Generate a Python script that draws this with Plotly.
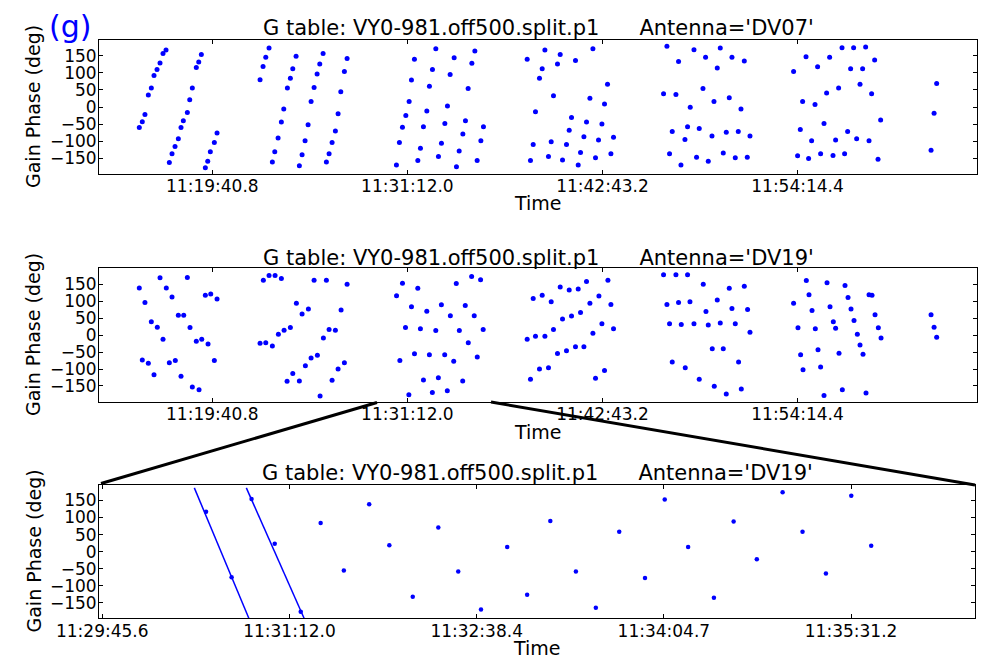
import plotly.graph_objects as go

W, H = 1000, 665

# ---------------- data (time = seconds after 11:00:00, phase in degrees) ----------------
main_tick_vals = [1180.8, 1872.0, 2563.2, 3254.4]
main_tick_labels = ["11:19:40.8", "11:31:12.0", "11:42:43.2", "11:54:14.4"]
zoom_tick_vals = [1785.6, 1872.0, 1958.4, 2044.8, 2131.2]
zoom_tick_labels = ["11:29:45.6", "11:31:12.0", "11:32:38.4", "11:34:04.7", "11:35:31.2"]
phase_ticks = [-150, -100, -50, 0, 50, 100, 150]

dv07_time_s = [
    922.0, 932.6, 942.0, 954.0, 964.6, 974.1, 984.8, 995.4, 1006.0, 1016.7,
    1028.4, 1037.9, 1048.6, 1060.3, 1069.8, 1078.0, 1092.2, 1100.7, 1109.9, 1124.0, 1132.6, 1141.8,
    1156.0, 1164.5, 1173.7, 1187.9, 1197.5,
    1349.9, 1360.5, 1370.1, 1381.8,
    1393.5, 1402.0, 1413.7, 1425.4, 1433.9, 1446.7, 1457.3, 1465.8, 1477.5,
    1489.2, 1498.8, 1509.4, 1520.1, 1530.7, 1541.3, 1552.0, 1561.5, 1573.2,
    1584.9, 1594.5, 1605.1, 1616.8, 1626.4, 1636.0, 1648.7, 1658.3,
    1833.1, 1843.7, 1854.4, 1866.4, 1878.1, 1886.3, 1896.9, 1908.9, 1918.2, 1928.8,
    1940.8, 1950.0, 1960.7, 1972.7, 1982.0, 1992.6, 2004.7, 2013.9, 2023.4, 2037.6,
    2045.8, 2055.4, 2068.5, 2077.7, 2087.2, 2100.4, 2111.0, 2119.2, 2132.3, 2141.5,
    2296.4, 2308.1, 2317.7, 2325.8, 2340.0, 2349.6, 2359.2, 2371.9, 2381.5, 2389.6,
    2403.8, 2413.4, 2421.6, 2435.7, 2445.3, 2453.5, 2467.6, 2477.2, 2485.4, 2497.4,
    2506.6, 2518.7, 2529.3, 2538.5, 2549.2, 2561.2, 2570.4, 2581.1, 2593.1, 2602.3,
    2779.6, 2791.6, 2800.9, 2810.4, 2823.5, 2832.8, 2841.3, 2855.4, 2864.7, 2874.2,
    2887.4, 2896.6, 2906.1, 2919.3, 2928.5, 2938.1, 2951.2, 2958.3, 2970.0, 2980.6,
    2991.2, 3001.9, 3012.5, 3022.0, 3033.8, 3044.4, 3054.0, 3065.7, 3076.3, 3085.9,
    3240.4, 3254.6, 3264.2, 3272.4, 3284.4, 3293.6, 3304.3, 3316.3, 3325.5, 3336.2,
    3348.2, 3357.4, 3368.1, 3380.1, 3389.3, 3399.9, 3412.0, 3421.2, 3431.9, 3442.5,
    3453.1, 3463.8, 3475.8, 3485.0, 3495.7, 3507.7, 3516.9, 3527.6, 3539.6, 3548.9,
    3727.5, 3738.2, 3747.4,
]
dv07_phase_deg = [
    -60, -43, -22, 35, 56, 92, 110, 129, 157, 167,
    -163, -137, -116, -93, -60, -40, -16, 21, 56, 116, 132, 154,
    -178, -159, -131, -104, -76,
    80, 119, 146, 173,
    -161, -131, -91, -44, -6, 56, 84, 112, 149,
    -172, -140, -99, -52, 16, 57, 97, 126, 157,
    -161, -137, -104, -70, -20, 45, 104, 142,
    -170, -104, -59, -25, 16, 79, 140, -157, -121, -58,
    -12, 61, 110, 171, -145, -106, -48, 3, 95, 144,
    -175, -129, -79, -40, 54, 128, 164, -157, -99, -58,
    140, -157, -110, -14, 84, 112, 167, -145, -102, 33,
    126, 154, -155, -110, -68, -31, 136, -170, -133, -87,
    -44, 26, 171, -149, -97, -50, 9, 67, -137, -89,
    39, 178, -137, -72, 37, 133, -170, -95, -58, -1,
    168, -147, -63, 54, 146, -159, -85, 16, 114, 173,
    -135, -74, 27, 146, -149, -72, -6, 135, -147, -85,
    104, -143, -66, 16, 147, -151, -99, 7, 118, -137,
    -48, 41, 146, -142, -97, 56, 174, -137, -72, 112,
    174, -93, 67, 112, 176, -99, 39, 138, -153, -38,
    -127, -18, 69,
]

dv19_time_s = [
    922.0, 932.6, 942.0, 954.0, 964.6, 974.1, 985.8, 995.4, 1006.0, 1017.7,
    1028.4, 1037.9, 1049.6, 1060.3, 1069.8, 1079.4, 1092.2, 1101.7, 1109.9, 1124.0,
    1133.7, 1143.2, 1156.0, 1165.6, 1175.1, 1187.9, 1197.5,
    1349.9, 1361.6, 1370.1, 1381.8, 1393.5, 1403.1, 1414.8, 1425.4, 1435.0, 1445.6,
    1457.3, 1465.8, 1478.6, 1489.2, 1498.8, 1510.5, 1521.1, 1530.7, 1541.3, 1553.0,
    1562.6, 1574.3, 1584.9, 1594.5, 1605.1, 1616.8, 1626.4, 1637.0, 1648.7, 1658.3,
    1833.5, 1845.3, 1854.5, 1865.2, 1877.2, 1886.4, 1897.1, 1908.8, 1918.1, 1928.9,
    1940.7, 1949.9, 1960.4, 1972.5, 1981.7, 1992.4, 2004.2, 2013.4, 2024.2, 2036.1,
    2045.2, 2056.0, 2067.9, 2077.0, 2087.7, 2099.6, 2108.8, 2119.6, 2131.3, 2140.5,
    2296.4, 2308.1, 2317.7, 2325.8, 2340.0, 2349.6, 2359.2, 2371.9, 2381.5, 2389.6,
    2403.8, 2413.4, 2421.6, 2435.7, 2445.3, 2453.5, 2467.6, 2477.2, 2485.4, 2497.4,
    2506.6, 2518.7, 2529.3, 2538.5, 2550.6, 2561.2, 2570.4, 2582.5, 2593.1, 2602.3,
    2779.6, 2791.6, 2800.9, 2810.4, 2823.5, 2832.8, 2842.4, 2856.5, 2864.7, 2873.2,
    2887.4, 2906.1, 2920.3, 2929.9, 2938.1, 2952.2, 2959.3, 2970.0, 2980.6, 2991.2,
    3001.9, 3012.5, 3022.0, 3033.8, 3045.5, 3055.1, 3065.7, 3077.4, 3085.9,
    3240.4, 3256.0, 3265.3, 3273.8, 3285.5, 3295.0, 3305.7, 3317.4, 3326.9, 3336.2,
    3348.2, 3358.9, 3369.5, 3381.2, 3389.3, 3401.4, 3413.1, 3422.6, 3433.3, 3443.9,
    3454.5, 3466.3, 3475.8, 3486.4, 3497.1, 3507.7, 3518.3, 3529.0, 3540.7, 3550.3,
    3727.5, 3738.2, 3747.4,
]
dv19_phase_deg = [
    140, -73, 97, -83, 40, -117, 24, 170, -12, 140,
    -81, 113, -75, 59, -121, 59, 171, 23, -153, -18,
    -161, -12, 118, -26, 122, -75, 107,
    -24, 163, -22, 177, -32, 177, 3, 168, 15, -136,
    23, -113, 95, -135, 63, -90, 78, -67, 163, -59,
    -180, -8, 163, 17, -133, 15, -100, 75, -81, 151,
    117, -75, 154, 23, -176, 84, -55, 139, 19, -132,
    71, -58, -169, 14, -126, 90, -58, -164, 58, -77,
    153, 14, -135, 88, -22, 174, 58, -64, 164, 17,
    -12, -130, 109, -3, -100, 118, -3, -96, 99, 17,
    -54, 143, 48, -46, 134, 57, -34, 137, 67, -34,
    159, 95, 6, -127, 116, 34, -104, 163, 91, 19,
    179, 91, 34, -79, 179, 97, 32, -96, 179, 99,
    34, -130, 151, 70, 30, -40, -151, 104, 36, -40,
    -174, 139, 79, 34, -79, -159, 145, 76, 9,
    95, 22, -58, -102, 162, 120, 73, 19, -43, -94,
    -178, 155, 84, 40, 21, -53, -161, 147, 112, 78,
    44, 3, -29, -56, -171, 120, 118, 61, 22, -8,
    61, 24, -6,
]

# phase-wrap guide lines in the zoomed panel
wrap1_time_s = [1828.1, 1853.3]
wrap1_phase_deg = [186.6, -195.5]
wrap2_time_s = [1852.1, 1878.8]
wrap2_phase_deg = [186.6, -195.5]

title_base = "G table: VY0-981.off500.split.p1"
antennas = ["DV07", "DV19", "DV19"]

# ---------------- layout helpers ----------------
def fx(p):
    return p / W

def fy(p):
    return 1 - p / H

FONT = "DejaVu Sans"
BLUE = "#0000ff"

fig = go.Figure()

marker = dict(color=BLUE, size=5, line=dict(width=0))
fig.add_trace(go.Scatter(x=dv07_time_s, y=dv07_phase_deg, mode="markers", marker=marker,
                         xaxis="x", yaxis="y", showlegend=False, cliponaxis=True))
fig.add_trace(go.Scatter(x=dv19_time_s, y=dv19_phase_deg, mode="markers", marker=marker,
                         xaxis="x2", yaxis="y2", showlegend=False, cliponaxis=True))
fig.add_trace(go.Scatter(x=dv19_time_s, y=dv19_phase_deg, mode="markers",
                         marker=dict(color=BLUE, size=4.5, line=dict(width=0)),
                         xaxis="x3", yaxis="y3", showlegend=False, cliponaxis=True))
for tx, ty in [(wrap1_time_s, wrap1_phase_deg), (wrap2_time_s, wrap2_phase_deg)]:
    fig.add_trace(go.Scatter(x=tx, y=ty, mode="lines", line=dict(color=BLUE, width=1.5),
                             xaxis="x3", yaxis="y3", showlegend=False))

tickfont = dict(family=FONT, size=17, color="black")

def xax(dom, rng, vals, labels, anchor):
    return dict(domain=dom, range=rng, anchor=anchor, tickvals=vals, ticktext=labels,
                ticks="inside", ticklen=4, tickcolor="black", mirror="allticks",
                showline=True, linecolor="black", linewidth=1, showgrid=False,
                zeroline=False, tickfont=tickfont, ticklabelstandoff=-3, automargin=False)

def yax(dom, rng, anchor):
    return dict(domain=dom, range=rng, anchor=anchor, tickvals=phase_ticks,
                ticks="inside", ticklen=4, tickcolor="black", mirror="allticks",
                showline=True, linecolor="black", linewidth=1, showgrid=False,
                zeroline=False, tickfont=tickfont, ticklabelstandoff=-2, automargin=False)

main_range = [779.2, 3890.3]
zoom_range = [1784.1, 2188.4]

panels = [
    # (x left, x right, y top, y bottom) in pixels
    (99, 977, 40.3, 173.7),
    (99, 977, 268.3, 401.7),
    (99, 975, 484.7, 618.3),
]

fig.update_layout(
    xaxis=xax([fx(99), fx(977)], main_range, main_tick_vals, main_tick_labels, "y"),
    yaxis=yax([fy(173.7), fy(40.3)], [-195.5, 195.5], "x"),
    xaxis2=xax([fx(99), fx(977)], main_range, main_tick_vals, main_tick_labels, "y2"),
    yaxis2=yax([fy(401.7), fy(268.3)], [-196.5, 198], "x2"),
    xaxis3=xax([fx(99), fx(975)], zoom_range, zoom_tick_vals, zoom_tick_labels, "y3"),
    yaxis3=yax([fy(618.3), fy(484.7)], [-195, 196], "x3"),
)

annotations = []
title_y = [28.5, 257.5, 473.0]
time_y = [203, 431.5, 647.5]
for i, (xl, xr, yt, yb) in enumerate(panels):
    xc = (xl + xr) / 2
    annotations.append(dict(
        text=title_base + "\u00a0" * 6 + "Antenna='" + antennas[i] + "'",
        x=fx(xc), y=fy(title_y[i]), xref="paper", yref="paper",
        xanchor="center", yanchor="middle", showarrow=False,
        font=dict(family=FONT, size=21, color="black")))
    annotations.append(dict(
        text="Time", x=fx(xc), y=fy(time_y[i]), xref="paper", yref="paper",
        xanchor="center", yanchor="middle", showarrow=False,
        font=dict(family=FONT, size=19, color="black")))
    annotations.append(dict(
        text="Gain Phase (deg)", x=fx(33), y=fy((yt + yb) / 2), xref="paper", yref="paper",
        xanchor="center", yanchor="middle", textangle=-90, showarrow=False,
        font=dict(family=FONT, size=19, color="black")))

annotations.append(dict(
    text="(g)", x=fx(47), y=fy(26), xref="paper", yref="paper",
    xanchor="left", yanchor="middle", showarrow=False,
    font=dict(family=FONT, size=30, color=BLUE)))

shapes = [
    dict(type="line", xref="paper", yref="paper", x0=fx(377), y0=fy(402.5), x1=fx(101), y1=fy(483.5),
         line=dict(color="black", width=3)),
    dict(type="line", xref="paper", yref="paper", x0=fx(491), y0=fy(402), x1=fx(975), y1=fy(485),
         line=dict(color="black", width=3)),
]

fig.update_layout(
    width=W, height=H,
    margin=dict(l=0, r=0, t=0, b=0, pad=0, autoexpand=False),
    paper_bgcolor="white", plot_bgcolor="white",
    font=dict(family=FONT, color="black"),
    annotations=annotations, shapes=shapes,
    showlegend=False,
)

fig.write_html("out.html", config={"displayModeBar": False},
               post_script="document.body.style.margin='0';")
